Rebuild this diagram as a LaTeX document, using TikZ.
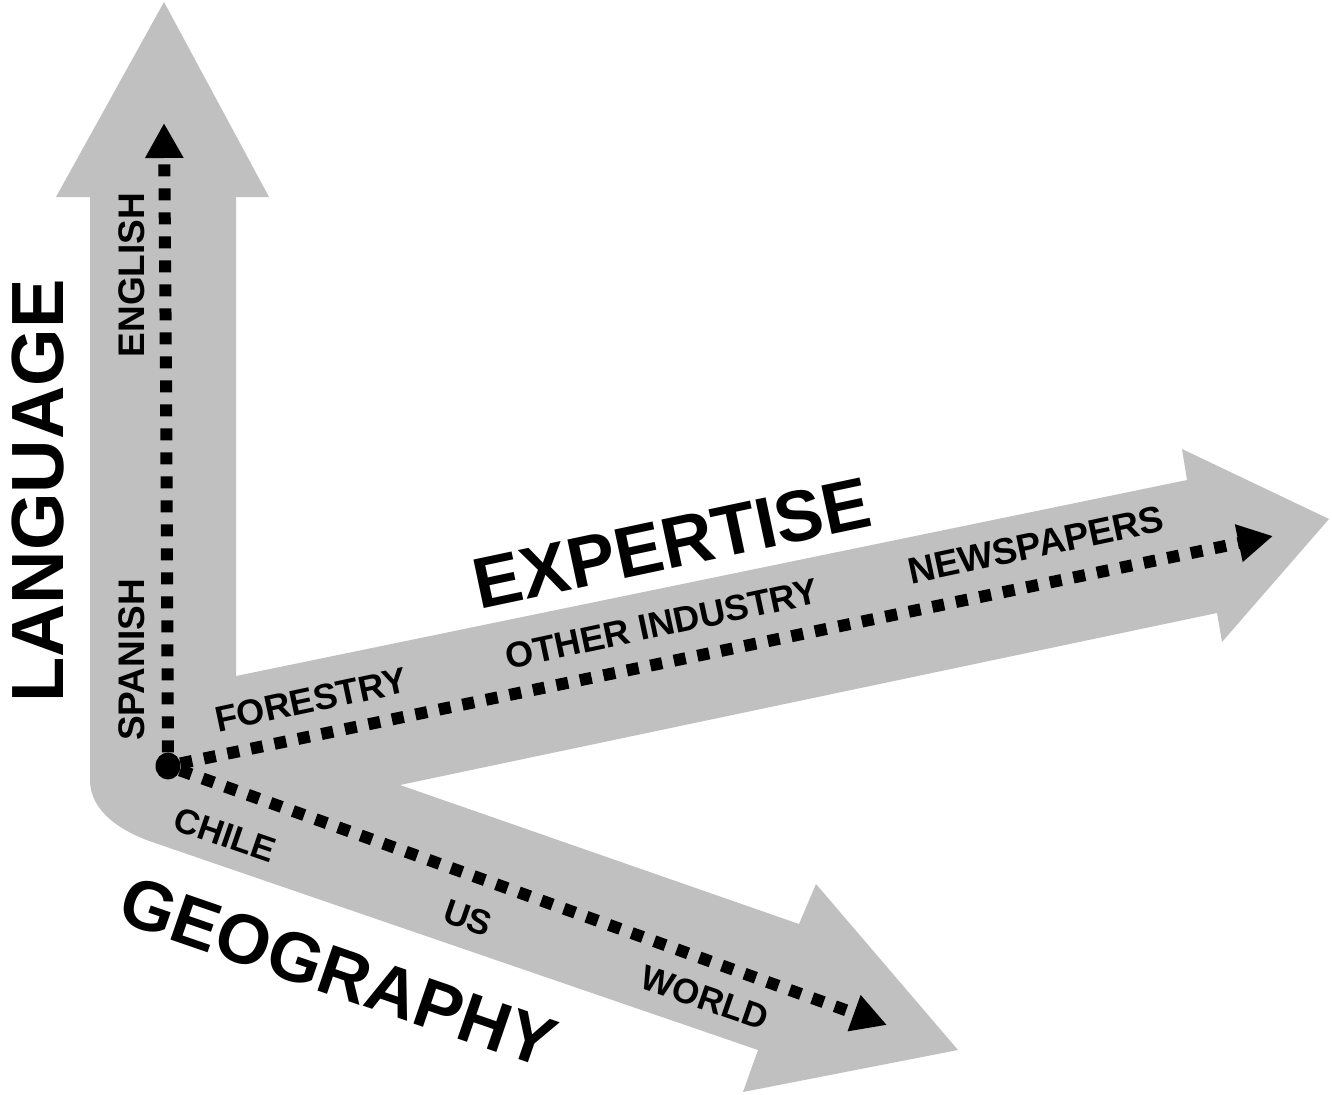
\documentclass[tikz,border=0pt]{standalone}
\usepackage{fontspec}
\setmainfont{Liberation Sans}
\usetikzlibrary{arrows.meta,shapes.geometric}
\definecolor{arrowgray}{HTML}{C0C0C0}
\begin{document}
\begin{tikzpicture}[x=1pt,y=-1pt,
  lbl/.style={font=\bfseries\fontsize{36}{36}\selectfont, inner sep=0pt},
  big/.style={font=\bfseries\fontsize{72}{72}\selectfont, inner sep=0pt},
  dots/.style={line width=12pt, dash pattern=on 12pt off 12pt, -{Triangle[length=35pt,width=36pt]}},
]
\useasboundingbox (0,0) rectangle (1332,1094);
% gray arrows
\fill[arrowgray] (164,2) -- (269,197) -- (236,197) -- (236,676) -- (1187,480) -- (1182,449)
  -- (1329,519) -- (1222,642) -- (1217,613) -- (400,785) -- (799,924) -- (816,884)
  -- (958,1050) -- (743,1092) -- (758,1050) -- (155,843)
  .. controls (122,832) and (90,812) .. (90,780) -- (90,197) -- (56,197) -- cycle;
% origin and dotted arrows
\node[ellipse, fill=black, minimum width=25pt, minimum height=27pt, inner sep=0pt] (o) at (168,766) {};
\coordinate (k) at (166,376);
\coordinate (eng) at (164,123);
\coordinate (news) at (1273,536);
\coordinate (world) at (887,1025);
\draw[dots] (o) -- (k) -- (eng);
\draw[dots] (o) -- (news);
\draw[dots] (o) -- (world);
% labels
\node[big, font=\bfseries\fontsize{74}{74}\selectfont, rotate=90] (language) at (38,491) {LANGUAGE};
\node[lbl, font=\bfseries\fontsize{37}{37}\selectfont, rotate=90] (english) at (132,275) {ENGLISH};
\node[lbl, font=\bfseries\fontsize{37}{37}\selectfont, rotate=90] (spanish) at (132,660) {SPANISH};
\node[big, rotate=12] (expertise) at (672,543) {EXPERTISE};
\node[lbl, rotate=12] (forestry) at (311,700) {FORESTRY};
\node[lbl, rotate=12] (other) at (662,624) {OTHER INDUSTRY};
\node[lbl, font=\bfseries\fontsize{37}{37}\selectfont, rotate=12] (newspapers) at (1036,545) {NEWSPAPERS};
\node[big, font=\bfseries\fontsize{70}{70}\selectfont, rotate=-19] (geography) at (338,972) {GEOGRAPHY};
\node[lbl, font=\bfseries\fontsize{35}{35}\selectfont, rotate=-19] (chile) at (225,835) {CHILE};
\node[lbl, font=\bfseries\fontsize{35}{35}\selectfont, rotate=-19] (us) at (468,918) {US};
\node[lbl, font=\bfseries\fontsize{35}{35}\selectfont, rotate=-19] (world-l) at (705,998) {WORLD};
\end{tikzpicture}
\end{document}
